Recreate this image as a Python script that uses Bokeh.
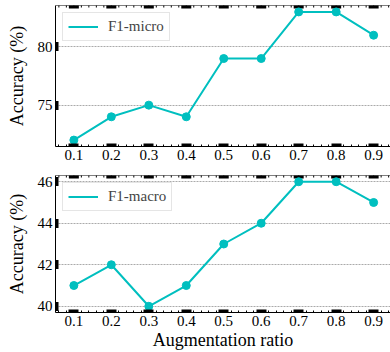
from bokeh.plotting import figure
from bokeh.layouts import column
from bokeh.models import FixedTicker, Legend, Span
from bokeh.embed import file_html
from bokeh.resources import INLINE

ratios = [0.1, 0.2, 0.3, 0.4, 0.5, 0.6, 0.7, 0.8, 0.9]
f1_micro = [72, 74, 75, 74, 79, 79, 83, 83, 81]
f1_macro = [41, 42, 40, 41, 43, 44, 46, 46, 45]
micro_ticks = [75, 80]
macro_ticks = [40, 42, 44, 46]
x_minor = [round(0.06 + 0.02 * i, 2) for i in range(45)]

COLOR = "#00bfbf"
FONT = "Liberation Serif"
X_LO, X_HI = 0.051, 0.945


def style_axis(ax, is_x):
    ax.axis_line_color = "black"
    ax.axis_line_width = 1
    ax.major_tick_out = 0
    ax.major_tick_in = 3
    ax.major_tick_line_color = "black"
    ax.major_tick_line_width = 10 if is_x else 9
    ax.minor_tick_out = 0
    ax.minor_tick_in = 2 if is_x else 0
    ax.minor_tick_line_color = "black" if is_x else None
    ax.minor_tick_line_width = 1
    ax.major_label_text_font = FONT
    ax.major_label_text_color = "black"
    ax.major_label_text_font_size = "15px"
    ax.major_label_standoff = 3
    ax.axis_label_text_font = FONT
    ax.axis_label_text_font_style = "normal"
    ax.axis_label_text_font_size = "18px"
    ax.axis_label_text_color = "black"


def make(yvals, yticks, label, ylo, yhi, height, bt, bb, xlabel=None):
    p = figure(width=390, height=height, x_range=(X_LO, X_HI), y_range=(ylo, yhi),
               output_backend="svg", toolbar_location=None,
               min_border_left=55, min_border_right=0, min_border_top=bt, min_border_bottom=bb)
    p.outline_line_color = None
    p.background_fill_color = "white"
    p.xgrid.grid_line_color = None
    p.ygrid.grid_line_color = "#aaaaaa"
    p.ygrid.grid_line_dash = "2 1"
    p.ygrid.grid_line_width = 1

    xt = FixedTicker(ticks=ratios, minor_ticks=x_minor)
    yt = FixedTicker(ticks=yticks)
    p.xaxis.ticker = xt
    p.yaxis.ticker = yt
    p.ygrid.ticker = yt
    style_axis(p.xaxis[0], True)
    style_axis(p.yaxis[0], False)
    p.yaxis.axis_label = "Accuracy (%)"
    p.yaxis.axis_label_standoff = 8
    if xlabel:
        p.xaxis.axis_label = xlabel
        p.xaxis.axis_label_standoff = 1

    # top spine and mirrored tick marks on the top edge (clipped to the frame)
    p.add_layout(Span(location=yhi, dimension="width", line_color="black", line_width=1))
    p.rect(x=ratios, y=[yhi] * len(ratios), width=10, height=6,
           width_units="screen", height_units="screen",
           fill_color="black", line_color=None)
    p.rect(x=x_minor, y=[yhi] * len(x_minor), width=1, height=4,
           width_units="screen", height_units="screen",
           fill_color="black", line_color=None)

    r = p.line(ratios, yvals, line_color=COLOR, line_width=2)
    p.scatter(ratios, yvals, size=8, fill_color=COLOR, line_color=COLOR)
    leg = Legend(items=[(label, [r])], location="top_left")
    leg.label_text_font = FONT
    leg.label_text_font_size = "15px"
    leg.glyph_width = 30
    leg.glyph_height = 15
    leg.label_standoff = 10
    leg.label_height = 15
    leg.padding = 5
    leg.margin = 7
    leg.border_line_color = "#cccccc"
    leg.border_line_width = 1
    leg.background_fill_alpha = 1.0
    p.add_layout(leg)
    return p


p1 = make(f1_micro, micro_ticks, "F1-micro", 71.45, 83.55, 173, 5, 27)
p2 = make(f1_macro, macro_ticks, "F1-macro", 39.7, 46.3, 179, 2, 38, xlabel="Augmentation ratio")

p = column(p1, p2)

open("out.html", "w").write(file_html(p, INLINE))
